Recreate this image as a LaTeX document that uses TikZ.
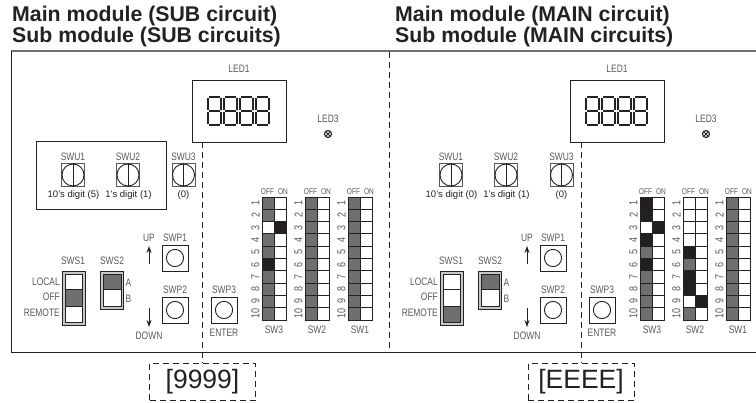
\documentclass[tikz,border=0pt]{standalone}
\usepackage{fontspec}
\usetikzlibrary{arrows.meta}
\setmainfont{Liberation Sans}
\newfontfamily\thinfont[FakeStretch=0.78]{Liberation Sans}
\definecolor{cellgray}{HTML}{6E6F71}
\definecolor{ink}{HTML}{222222}
\definecolor{cellblack}{HTML}{231F20}
\tikzset{
 x=1pt,y=-1pt,
 thin label/.style={inner sep=0pt,font=\thinfont\fontsize{10.8}{12}\selectfont,text=ink!75},
 small label/.style={inner sep=0pt,font=\fontsize{9.5}{11}\selectfont,text=ink},
 title text/.style={inner sep=0pt,anchor=base west,font=\bfseries\fontsize{21.3}{23}\selectfont,text=ink},
 frame line/.style={draw=ink,line width=1pt},
 rule dash/.style={draw=ink,line width=0.9pt,dash pattern=on 6pt off 4pt},
 code box/.style={draw=ink,line width=0.9pt,dash pattern=on 6pt off 4pt,minimum width=106pt,minimum height=37.5pt,inner sep=0pt,font=\fontsize{26.5}{28}\selectfont,text=ink},
 cell/.style={draw=ink,line width=0.9pt},
}
% rotary switch: name, x, y (centre)
\newcommand{\rotary}[4]{%
 \node[thin label] (#1t) at (#2,#3-18) {#4};
 \node[draw=ink!75,line width=0.8pt,minimum size=23pt,inner sep=0pt] (#1) at (#2,#3) {};
 \draw[line width=0.9pt,draw=ink] (#2,#3) circle (11pt);
 \draw[line width=0.8pt,draw=ink] (#1.north) -- (#1.south);
}
% push button
\newcommand{\pushb}[4]{%
 \node[thin label] (#1t) at (#2,#3-20) {#4};
 \node[draw=ink,line width=0.9pt,minimum size=26pt,inner sep=0pt] (#1) at (#2,#3) {};
 \draw[line width=0.9pt,draw=ink] (#2,#3) circle (8.6pt);
}
% dip switch: left x, name, row list, label
\newcommand{\dipsw}[4]{%
 \node[thin label,font=\thinfont\fontsize{8.4}{9}\selectfont] at (#1+5.5,192) {OFF};
 \node[thin label,font=\thinfont\fontsize{8.4}{9}\selectfont] at (#1+21,192) {ON};
 \foreach \r/\c/\d in #3{
  \pgfmathsetmacro{\yt}{197+(\r-1)*12.3}
  \filldraw[cell,fill=\c] (#1,\yt) rectangle (#1+12,\yt+12.3);
  \filldraw[cell,fill=\d] (#1+12,\yt) rectangle (#1+24,\yt+12.3);
  \node[thin label,rotate=90,font=\thinfont\fontsize{11.5}{12}\selectfont] at (#1-6.5,\yt+6.1) {\r};
 }
 \node[thin label] (#2) at (#1+12,330) {#4};
}
\newcommand{\allgray}{1/cellgray/white,2/cellgray/white,3/cellgray/white,4/cellgray/white,5/cellgray/white,6/cellgray/white,7/cellgray/white,8/cellgray/white,9/cellgray/white,10/cellgray/white}
\newcommand{\panel}[4]{%
 \begin{scope}[xshift=#1]
 % LED1
 \node[draw=ink,line width=0.9pt,minimum width=94pt,minimum height=62pt,inner sep=0pt] (#2led) at (239,111) {};
 \node[thin label] at (239,69) {LED1};
 \foreach \k in {0,1,2,3}{
  \begin{scope}[shift={(207+\k*16,96)}]
   \draw[line width=2pt,draw=ink,line cap=butt]
     (2.3,1) -- (12.7,1)  (2.3,15) -- (12.7,15)  (2.3,29) -- (12.7,29)
     (1,2.3) -- (1,13.7) (14,2.3) -- (14,13.7)
     (1,16.3) -- (1,27.7) (14,16.3) -- (14,27.7);
  \end{scope}
 }
 % LED3
 \node[thin label] at (328,119) {LED3};
 \draw[line width=1.1pt,draw=ink] (328,134) circle (3.5pt);
 \draw[line width=0.9pt,draw=ink] (325.6,131.6) -- (330.4,136.4) (325.6,136.4) -- (330.4,131.6);
 % rotary
 \rotary{#2swua}{73}{175}{SWU1}
 \rotary{#2swub}{128}{175}{SWU2}
 \rotary{#2swuc}{183.5}{175}{SWU3}
 % slide switches
 \node[thin label] at (73,261) {SWS1};
 \node[draw=ink,fill=black!22,line width=0.9pt,minimum width=23pt,minimum height=54pt,inner sep=0pt] (#2swsa) at (73.5,298) {};
 \node[thin label] at (112,261) {SWS2};
 \node[draw=ink,fill=black!22,line width=0.9pt,minimum width=23pt,minimum height=38pt,inner sep=0pt] (#2swsb) at (112,290) {};
 #3
 \node[thin label,anchor=east] at (60,282) {LOCAL};
 \node[thin label,anchor=east] at (60,297) {OFF};
 \node[thin label,anchor=east] at (60,313) {REMOTE};
 \node[thin label] at (128.5,283) {A};
 \node[thin label] at (128.5,299) {B};
 % buttons
 \node[thin label] (#2up) at (149,238) {UP};
 \node[thin label] (#2down) at (149,336) {DOWN};
 \draw[-{Stealth[length=7pt,width=5pt]},line width=1pt,draw=ink] (149,264) -- (149,246);
 \draw[-{Stealth[length=7pt,width=5pt]},line width=1pt,draw=ink] (149,308) -- (149,327);
 \pushb{#2swpa}{175}{258}{SWP1}
 \pushb{#2swpb}{175}{310}{SWP2}
 \pushb{#2swpc}{224}{310}{SWP3}
 \node[thin label] at (224,333) {ENTER};
 #4
 \end{scope}
}
\begin{document}
\begin{tikzpicture}
\useasboundingbox (0,0) rectangle (756,403);
\node[title text] (t1) at (12,21.5) {Main module (SUB circuit)};
\node[title text] (t2) at (12,42.5) {Sub module (SUB circuits)};
\node[title text] (t3) at (395,21.5) {Main module (MAIN circuit)};
\node[title text] (t4) at (395,42.5) {Sub module (MAIN circuits)};
% frame
\draw[draw=cellgray,line width=1.8pt] (11,51) -- (756,51);
\draw[frame line] (11,51) -- (11,353) -- (756,353);
% divider
\coordinate (dtop) at (389,52);
\coordinate (dbot) at (389,353);
\draw[rule dash] (dtop) -- (dbot);
% left panel
\panel{0pt}{l}{%
 \filldraw[cell,fill=white] (65,274) rectangle (82,289.5);
 \filldraw[cell,fill=cellgray] (65,289.5) rectangle (82,306);
 \filldraw[cell,fill=white] (65,306) rectangle (82,322);
 \filldraw[cell,fill=cellgray] (103,274) rectangle (121,289.5);
 \filldraw[cell,fill=white] (103,289.5) rectangle (121,306);
}{%
 \dipsw{262}{lsw3}{{1/cellgray/white,2/cellgray/white,3/white/cellblack,4/cellgray/white,5/cellgray/white,6/cellblack/white,7/cellgray/white,8/cellgray/white,9/cellgray/white,10/cellgray/white}}{SW3}
 \dipsw{305}{lsw2}{\allgray}{SW2}
 \dipsw{348}{lsw1}{\allgray}{SW1}
}
\node[draw=ink,line width=0.9pt,minimum width=130pt,minimum height=68pt,inner sep=0pt] (lbox) at (101,175) {};
\node[small label] at (73.5,195) {10's digit (5)};
\node[small label] at (128.5,195) {1's digit (1)};
\node[small label] at (183.5,195) {(0)};
% right panel
\panel{378pt}{r}{%
 \filldraw[cell,fill=white] (65,274) rectangle (82,289.5);
 \filldraw[cell,fill=white] (65,289.5) rectangle (82,306);
 \filldraw[cell,fill=cellgray] (65,306) rectangle (82,322);
 \filldraw[cell,fill=cellgray] (103,274) rectangle (121,289.5);
 \filldraw[cell,fill=white] (103,289.5) rectangle (121,306);
}{%
 \dipsw{262}{rsw3}{{1/cellblack/white,2/cellblack/white,3/white/cellblack,4/cellblack/white,5/cellgray/white,6/cellblack/white,7/cellgray/white,8/cellgray/white,9/cellgray/white,10/cellgray/white}}{SW3}
 \dipsw{305}{rsw2}{{1/white/white,2/white/white,3/white/white,4/white/white,5/cellblack/white,6/cellgray/white,7/cellblack/white,8/cellblack/white,9/white/cellblack,10/cellgray/white}}{SW2}
 \dipsw{348}{rsw1}{\allgray}{SW1}
}
\node[small label] at (451.5,195) {10's digit (0)};
\node[small label] at (506.5,195) {1's digit (1)};
\node[small label] at (561.5,195) {(0)};
% code boxes
\node[code box] (c9) at (202.5,382) {[9999]};
\node[code box] (cE) at (581,382) {[EEEE]};
\draw[rule dash] (lled.south -| c9.north) -- (c9.north);
\draw[rule dash] (rled.south -| cE.north) -- (cE.north);
\end{tikzpicture}
\end{document}
